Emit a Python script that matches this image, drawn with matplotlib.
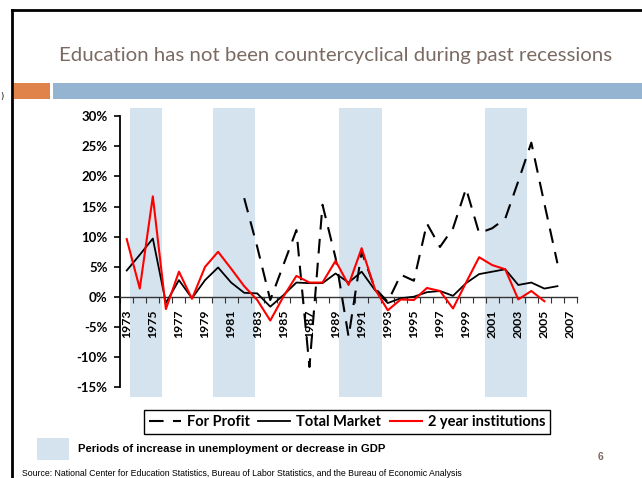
import numpy as np
import matplotlib
matplotlib.use("Agg")
import matplotlib.pyplot as plt
from matplotlib.lines import Line2D
from matplotlib.patches import Rectangle

nan = np.nan

# enrollment growth, % change per year
years = list(range(1973, 2007))
for_profit = [nan, nan, nan, nan, nan, nan, nan, nan, nan,
              16.4, 8.3, -0.5, 5.3, 11.1, -11.6, 15.3, 6.5, -6.6, 7.5, 1.5,
              -0.8, 3.7, 2.7, 12.2, 8.3, 11.4, 18.0, 10.6, 11.4, 13.0, 19.2,
              25.6, 15.5, 5.6]
total_market = [4.4, 7.0, 9.7, -1.0, 2.8, -0.2, 2.8, 4.9, 2.4, 0.7, 0.6, -1.6,
                0.3, 2.4, 2.3, 2.3, 3.9, 2.4, 4.2, 1.2, -1.0, -0.2, 0.05, 0.8,
                1.0, 0.2, 2.3, 3.8, 4.2, 4.6, 2.0, 2.4, 1.4, 1.8]
two_year = [9.6, 1.4, 16.7, -2.0, 4.2, -0.3, 5.0, 7.5, 4.7, 1.8, -0.5, -3.9,
            0.05, 3.5, 2.4, 2.4, 6.0, 2.0, 8.1, 1.4, -2.2, -0.4, -0.5, 1.5,
            1.0, -1.9, 2.4, 6.6, 5.3, 4.6, -0.4, 1.0, -0.7, nan]

# shaded periods (unemployment up or GDP down)
band_start = [1973.25, 1979.6, 1989.3, 2000.45]
band_end = [1975.7, 1982.85, 1992.55, 2003.65]

tick_years = list(range(1973, 2008, 2))
y_ticks = [-15, -10, -5, 0, 5, 10, 15, 20, 25, 30]

band_col = "#D5E3EF"
title_col = "#7a6a62"
W, H = 642, 478

fig = plt.figure(figsize=(W / 100, H / 100), dpi=100)


def fx(px):
    return px / W


def fy(py):
    return 1 - py / H


# slide decoration
fig.add_artist(Line2D([fx(12), 1], [fy(10), fy(10)], color="black", lw=2))
fig.add_artist(Line2D([fx(12), fx(12)], [fy(10), 0], color="black", lw=2))
fig.add_artist(Rectangle((fx(13.5), fy(99)), fx(50) - fx(13.5), fy(83) - fy(99),
                         color="#E0834A", lw=0))
fig.add_artist(Rectangle((fx(53), fy(99)), 1 - fx(53), fy(83) - fy(99),
                         color="#94B4D2", lw=0))
fig.text(fx(0), fy(96), ")", ha="left", va="center", fontsize=6)
fig.text(fx(336), fy(56), "Education has not been countercyclical during past recessions",
         ha="center", va="center", fontsize=14.7, color=title_col, family="Lato")

ax = fig.add_axes([fx(120.2), 1 - 396.5 / H, 456.8 / W, 288.8 / H])
for s, e in zip(band_start, band_end):
    ax.axvspan(s, e, color=band_col, lw=0, zorder=0)

ax.plot(years, for_profit, color="black", lw=1.5, dashes=(7, 4.5), label="For Profit", zorder=3)
ax.plot(years, total_market, color="black", lw=1.3, label="Total Market", zorder=4)
ax.plot(years, two_year, color="red", lw=1.5, label="2 year institutions", zorder=5)

ax.set_xlim(1972.5, 2007.5)
ax.set_ylim(-16.5, 31.4)
ax.spines["top"].set_visible(False)
ax.spines["right"].set_visible(False)
ax.spines["left"].set_bounds(-15, 30)
ax.spines["left"].set_linewidth(1.3)
ax.spines["bottom"].set_position(("data", 0))
ax.spines["bottom"].set_linewidth(1.0)
ax.spines["bottom"].set_color("#333333")

ax.set_yticks(y_ticks)
ax.set_yticklabels([f"{v}%" for v in y_ticks], fontweight="bold", fontsize=9.5, family="Lato")
ax.tick_params(axis="y", direction="out", length=4, width=1.2, pad=5)

ax.set_xticks(tick_years)
ax.set_xticklabels([str(y) for y in tick_years], rotation=90, fontweight="bold",
                   fontsize=8.8, family="Lato")
ax.set_xticks(np.arange(1972.5, 2008, 1), minor=True)
ax.tick_params(axis="x", which="major", length=0, pad=9)
ax.tick_params(axis="x", which="minor", direction="out", length=4, width=0.8, color="#333333")
for lbl in ax.get_xticklabels():
    lbl.set_va("top")

leg = fig.legend(loc="center", bbox_to_anchor=(fx(347), fy(422)), ncol=3, frameon=True,
                 fancybox=False, edgecolor="black", framealpha=1, handlelength=2.2,
                 columnspacing=0.6, handletextpad=0.4, borderpad=0.35,
                 prop={"family": "Lato", "weight": "bold", "size": 10.5})
leg.get_frame().set_linewidth(1.0)

fig.add_artist(Rectangle((fx(37), fy(460)), fx(69) - fx(37), fy(438) - fy(460),
                         color=band_col, lw=0))
fig.text(fx(78), fy(449), "Periods of increase in unemployment or decrease in GDP",
         ha="left", va="center", fontsize=8.1, fontweight="bold", family="Liberation Sans")
fig.text(fx(601), fy(457), "6", ha="center", va="center", fontsize=7.5,
         fontweight="bold", color=title_col, family="Liberation Sans")
fig.text(fx(22), fy(473.5), "Source: National Center for Education Statistics, Bureau of Labor "
         "Statistics, and the Bureau of Economic Analysis",
         ha="left", va="center", fontsize=6.3, family="Liberation Sans")

fig.savefig("out.png", dpi=100)
